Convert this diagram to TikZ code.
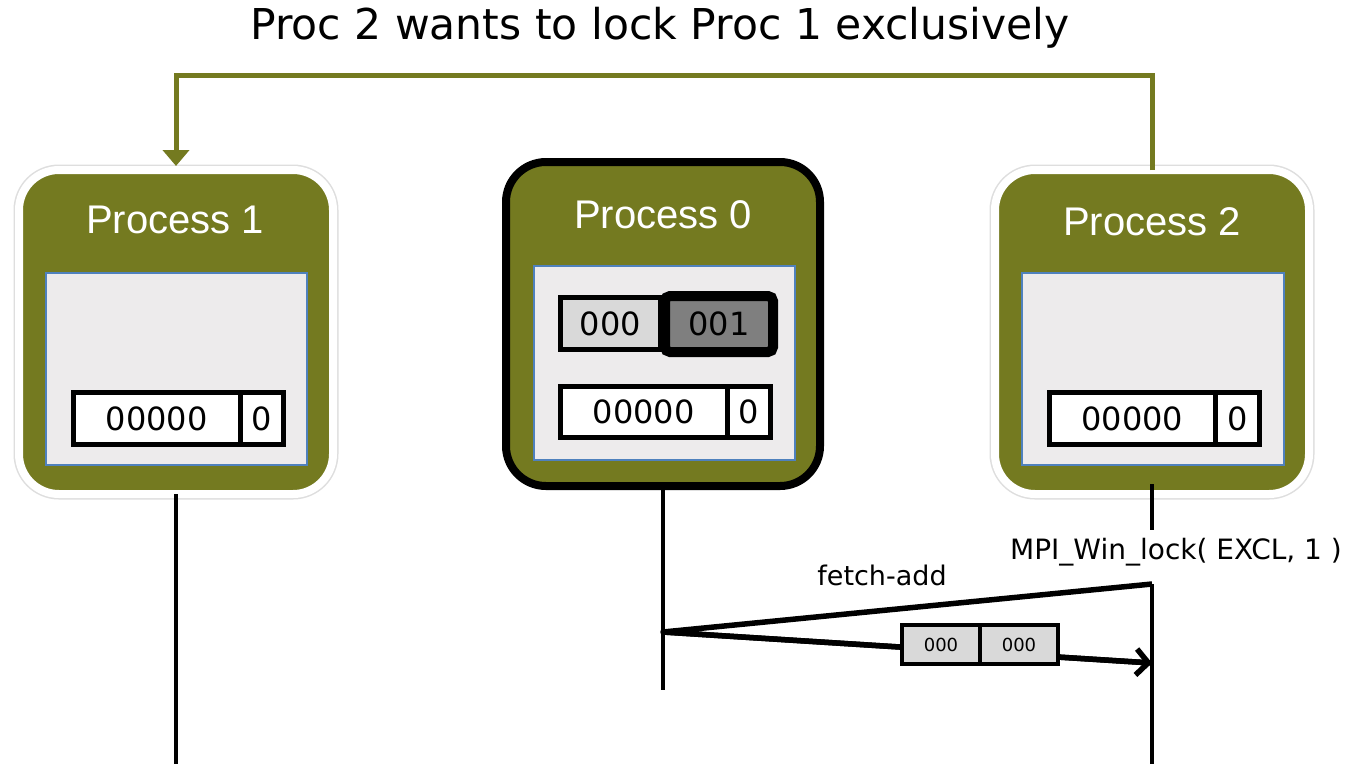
\documentclass[tikz,border=0pt]{standalone}
\usepackage{fontspec}
\setmainfont{DejaVu Sans}
\newfontfamily\arialfont{Liberation Sans}
\definecolor{procgreen}{RGB}{116,122,32}
\definecolor{winfill}{RGB}{237,235,236}
\definecolor{winblue}{RGB}{79,129,189}
\definecolor{cellgray}{RGB}{217,217,217}
\definecolor{celldark}{RGB}{127,127,127}
\usetikzlibrary{arrows.meta,positioning,shadows}

\tikzset{
  boxbase/.style={line width=8pt, fill=procgreen, rounded corners=40pt,
    minimum width=314pt, minimum height=324pt, inner sep=0pt, outer sep=0pt},
  procbox/.style={boxbase, draw=white, preaction={draw=black!13, line width=11pt}},
  lockbox/.style={boxbase, draw=black},
  proctitle/.style={text=white, font=\arialfont\fontsize{40}{48}\selectfont},
  winbox/.style={draw=winblue, line width=1.2pt, fill=winfill, minimum width=261pt,
    minimum height=192pt, inner sep=0pt, outer sep=0pt},
  cell/.style={draw=black, line width=5pt, fill=white, inner sep=0pt, outer sep=0pt,
    minimum height=52pt, font=\fontsize{32}{38}\selectfont},
  smallcell/.style={cell, line width=4pt, fill=cellgray, minimum width=78pt,
    minimum height=39pt, font=\fontsize{18}{22}\selectfont},
  timeline/.style={line width=4pt},
  msg/.style={line width=5.5pt},
  greenarrow/.style={draw=procgreen, line width=5pt, -{Triangle[length=16pt,width=26pt]}}
}

\begin{document}
\begin{tikzpicture}[x=1pt, y=-1pt]
  \useasboundingbox[fill=white] (0,0) rectangle (1346,764);

  \node[font=\fontsize{42.5}{50}\selectfont] (title) at (660,28) {Proc 2 wants to lock Proc 1 exclusively};

  % Process 1
  \node[procbox] (p1) at (176,332) {};
  \node[proctitle] (t1) at (175,220) {Process 1};
  \node[winbox] (w1) at (176.5,369) {};
  \node[cell, minimum width=166.5pt] (r1a) at (156.75,418.5) {00000};
  \node[cell, minimum width=43.5pt, right=0pt of r1a] (r1b) {0};

  % Process 0 (lock holder)
  \node[lockbox] (p0) at (663,324) {};
  \node[proctitle] (t0) at (663,215) {Process 0};
  \node[winbox, minimum height=194pt] (w0) at (664.5,363) {};
  \node[cell, fill=cellgray, minimum width=99.5pt, minimum height=52.5pt] (q0a) at (610.25,323.5) {000};
  \node[cell, line width=10pt, rounded corners=5pt, fill=celldark, minimum width=108pt,
    minimum height=56pt] (q0b) at (719,324) {001};
  \node[cell, minimum width=166.5pt, minimum height=51pt] (r0a) at (643.75,412) {00000};
  \node[cell, minimum width=43.5pt, minimum height=51pt, right=0pt of r0a] (r0b) {0};

  % Process 2
  \node[procbox] (p2) at (1152,332) {};
  \node[proctitle] (t2) at (1152,222) {Process 2};
  \node[winbox, minimum width=262pt] (w2) at (1153,369) {};
  \node[cell, minimum width=165.5pt] (r2a) at (1132.25,418.5) {00000};
  \node[cell, minimum width=44.5pt, right=0pt of r2a] (r2b) {0};

  % lock request from Proc 2 to Proc 1
  \coordinate (top) at (660,75);
  \draw[greenarrow, shorten >=4pt] (p2.north) |- (top) -| (p1.north);

  % timelines
  \coordinate (p1end) at (176,764);
  \coordinate (p0end) at (663,690);
  \coordinate (lockcall) at (1152,530);
  \coordinate (p2end) at (1152,764);
  \coordinate (fa) at (663,632);
  \coordinate (lockreq) at (1152,584);
  \coordinate (lockack) at (1152,663);
  \draw[timeline] (p1.south) -- (p1end);
  \draw[timeline] (p0.south) -- (p0end);
  \draw[timeline] ([yshift=10pt]p2.south) -- (lockcall);
  \draw[timeline] (lockreq) -- (p2end);

  % fetch-add and reply
  \draw[msg, line join=round] (lockreq) -- (fa) -- (lockack);
  \draw[msg, -{Straight Barb[length=12pt,width=26pt]}] (fa) -- (lockack);
  \node[smallcell] (m1) at (941,644.5) {000};
  \node[smallcell, right=0pt of m1] (m2) {000};

  \node[font=\fontsize{27}{32}\selectfont] (falbl) at (882,575) {fetch-add};
  \node[font=\fontsize{28}{32}\selectfont] (lklbl) at (1176,552) {MPI\_Win\_lock( EXCL, 1 )};
\end{tikzpicture}
\end{document}
